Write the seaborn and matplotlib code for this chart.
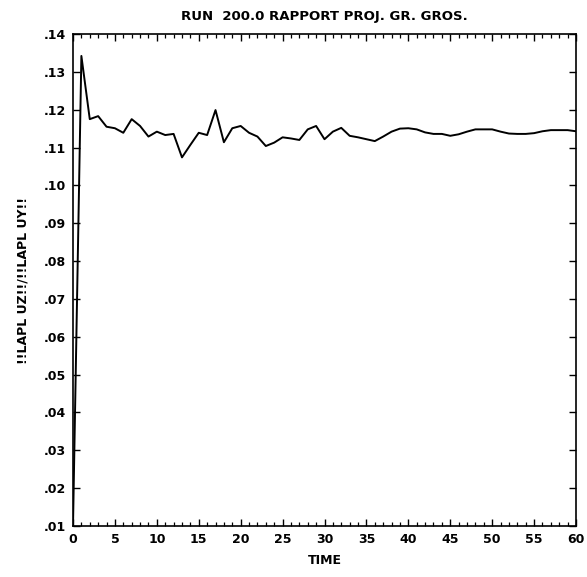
import matplotlib
matplotlib.use("Agg")
import matplotlib.pyplot as plt
from matplotlib.ticker import MultipleLocator, FixedLocator
import seaborn as sns
import pandas as pd

time = list(range(0, 61))
ratio = [0.0100, 0.1342, 0.1175, 0.1183, 0.1155, 0.1151, 0.1139, 0.1175, 0.1157, 0.1129,
         0.1142, 0.1133, 0.1136, 0.1074, 0.1107, 0.1139, 0.1133, 0.1199, 0.1114, 0.1151,
         0.1157, 0.1139, 0.1129, 0.1104, 0.1113, 0.1127, 0.1124, 0.1120, 0.1148, 0.1157,
         0.1122, 0.1142, 0.1152, 0.1131, 0.1127, 0.1122, 0.1117, 0.1129, 0.1142, 0.1150,
         0.1151, 0.1148, 0.1140, 0.1136, 0.1136, 0.1131, 0.1135, 0.1142, 0.1148, 0.1148,
         0.1148, 0.1142, 0.1137, 0.1136, 0.1136, 0.1138, 0.1143, 0.1146, 0.1146, 0.1146,
         0.1143]
xticks = [0, 5, 10, 15, 20, 25, 30, 35, 40, 45, 50, 55, 60]
xticklabels = ["0", "5", "10", "15", "20", "25", "30", "35", "40", "45", "50", "55", "60"]
yticks = [0.14, 0.13, 0.12, 0.11, 0.10, 0.09, 0.08, 0.07, 0.06, 0.05, 0.04, 0.03, 0.02, 0.01]
yticklabels = [".14", ".13", ".12", ".11", ".10", ".09", ".08", ".07", ".06", ".05", ".04", ".03", ".02", ".01"]
title = "RUN  200.0 RAPPORT PROJ. GR. GROS."
xlabel = "TIME"
ylabel = "!!LAPL UZ!!/!!LAPL UY!!"

sns.set_style("ticks")
plt.rcParams["font.family"] = ["DejaVu Sans"]
plt.rcParams["text.color"] = "black"
plt.rcParams["axes.labelcolor"] = "black"
plt.rcParams["xtick.color"] = "black"
plt.rcParams["ytick.color"] = "black"

df = pd.DataFrame({"time": time, "ratio": ratio})

fig = plt.figure(figsize=(5.87, 5.77), dpi=100)
ax = fig.add_axes([73 / 587, 1 - 526 / 577, (576 - 73) / 587, (526 - 34) / 577])
sns.lineplot(data=df, x="time", y="ratio", ax=ax, color="black", linewidth=1.4)

ax.set_xlim(0, 60)
ax.set_ylim(0.01, 0.14)
ax.xaxis.set_major_locator(FixedLocator(xticks))
ax.set_xticklabels(xticklabels)
ax.xaxis.set_minor_locator(MultipleLocator(1))
ax.yaxis.set_major_locator(FixedLocator(yticks))
ax.set_yticklabels(yticklabels)

ax.tick_params(axis="both", which="major", direction="in", top=True, right=True,
               length=5, width=1.0, color="black", labelcolor="black", labelsize=9, pad=5)
ax.tick_params(axis="x", which="minor", direction="in", top=True, bottom=True,
               length=3, width=0.9, color="black")
for lab in ax.get_xticklabels() + ax.get_yticklabels():
    lab.set_fontweight("bold")
for s in ax.spines.values():
    s.set_linewidth(1.2)
    s.set_color("black")

ax.set_xlabel(xlabel, fontsize=9, fontweight="bold", labelpad=6, color="black")
ax.set_ylabel(ylabel, fontsize=9, fontweight="bold", labelpad=10, color="black")
ax.set_title(title, fontsize=9.5, fontweight="bold", pad=10, color="black")

fig.savefig("out.png", dpi=100)
